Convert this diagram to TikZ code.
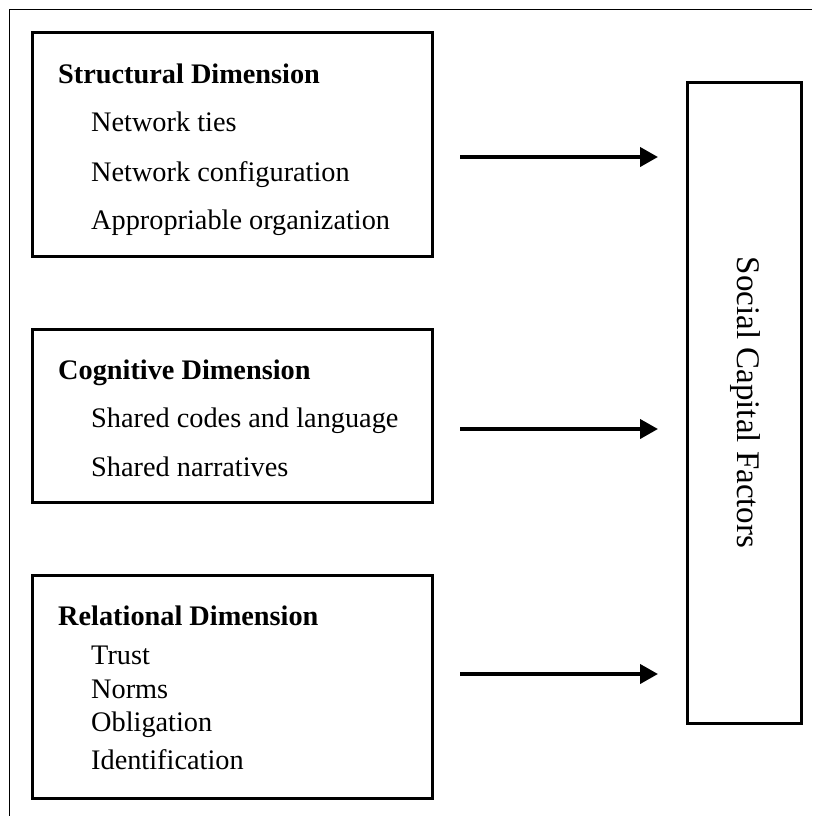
\documentclass[tikz,border=0pt]{standalone}
\usepackage{fontspec}
\setmainfont{Liberation Serif}
\usetikzlibrary{arrows.meta}
\begin{document}
\begin{tikzpicture}[x=1pt,y=-1pt,
  dimbox/.style={draw, line width=3pt, inner sep=0pt},
  headtext/.style={anchor=base west, inner sep=0pt, font=\fontsize{28.3}{34}\selectfont\bfseries},
  itemtext/.style={anchor=base west, inner sep=0pt, font=\fontsize{28.3}{34}\selectfont},
  flowarrow/.style={line width=4pt, -{Triangle[length=18pt,width=19pt]}}
]
\useasboundingbox (0,0) rectangle (812,816);
% outer frame (only top and left visible)
\draw[line width=1.5pt] (812,9.5) -- (9.5,9.5) -- (9.5,816);

% boxes
\node[dimbox, minimum width=400pt, minimum height=223pt] (sbox) at (232,144.5) {};
\node[dimbox, minimum width=400pt, minimum height=173pt] (cbox) at (232,415.5) {};
\node[dimbox, minimum width=400pt, minimum height=223pt] (rbox) at (232,686.5) {};
\node[dimbox, minimum width=114pt, minimum height=641pt] (scf) at (744,402.5) {};
\node[rotate=-90, inner sep=0pt, font=\fontsize{33}{38}\selectfont] (scft) at (745,402.5) {Social Capital Factors};

% structural texts
\node[headtext] (sh) at (58,84) {Structural Dimension};
\node[itemtext] (s1) at (91,131) {Network ties};
\node[itemtext] (s2) at (91,181) {Network configuration};
\node[itemtext] (s3) at (91,229) {Appropriable organization};

% cognitive texts
\node[headtext] (ch) at (58,379) {Cognitive Dimension};
\node[itemtext] (c1) at (91,427) {Shared codes and language};
\node[itemtext] (c2) at (91,476) {Shared narratives};

% relational texts
\node[headtext] (rh) at (58,625) {Relational Dimension};
\node[itemtext] (r1) at (91,664) {Trust};
\node[itemtext] (r2) at (91,698) {Norms};
\node[itemtext] (r3) at (91,731) {Obligation};
\node[itemtext] (r4) at (91,769) {Identification};

% arrows
\coordinate (a1s) at (460,157);
\coordinate (a1e) at (658,157);
\coordinate (a2s) at (460,429);
\coordinate (a2e) at (658,429);
\coordinate (a3s) at (460,674);
\coordinate (a3e) at (658,674);
\draw[flowarrow] (a1s) -- (a1e);
\draw[flowarrow] (a2s) -- (a2e);
\draw[flowarrow] (a3s) -- (a3e);
\end{tikzpicture}
\end{document}
